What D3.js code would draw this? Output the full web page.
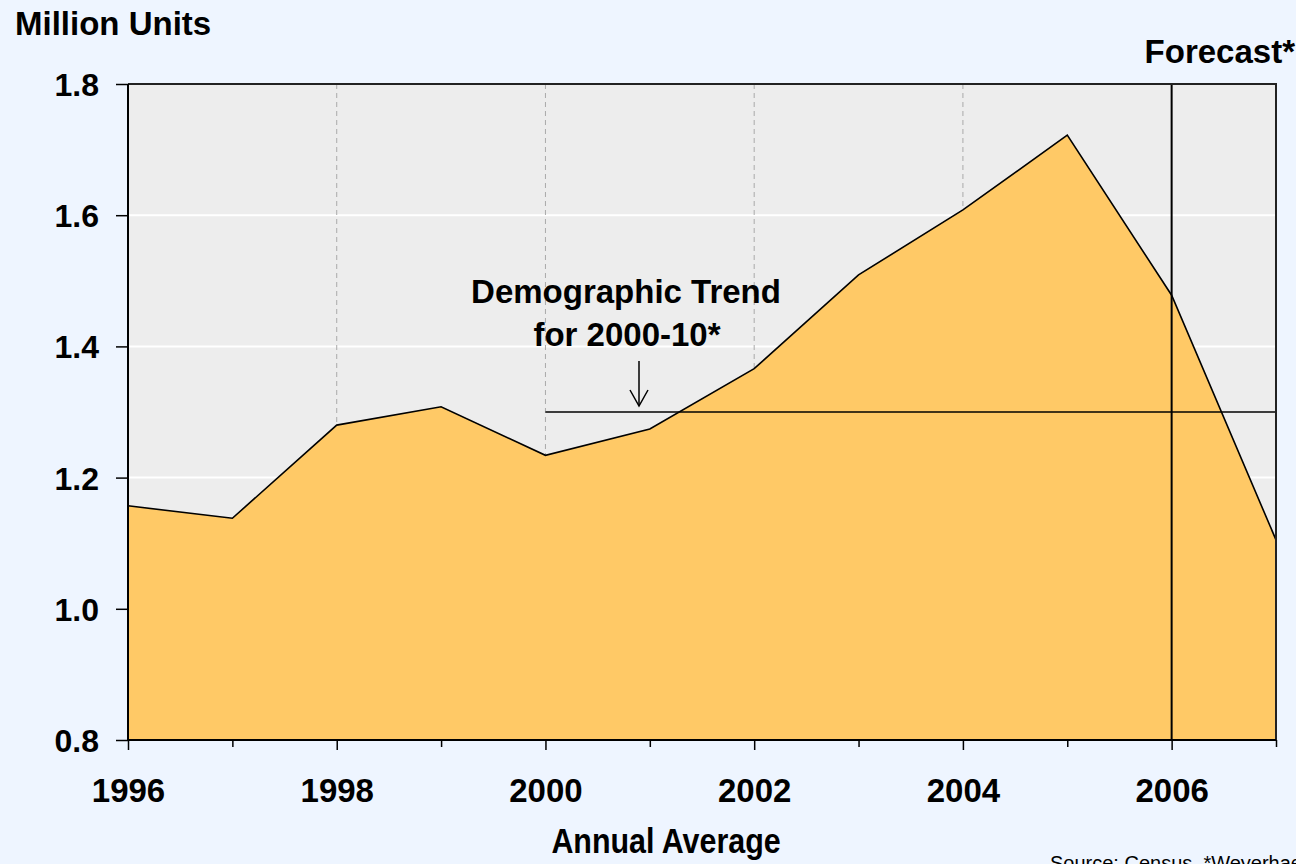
<!DOCTYPE html>
<html>
<head>
<meta charset="utf-8">
<script src="https://cdn.jsdelivr.net/npm/d3@7"></script>
<style>
  html, body { margin: 0; padding: 0; background: #EEF5FF; overflow: hidden; }
  svg { display: block; font-family: "Liberation Sans", Arial, sans-serif; }
</style>
</head>
<body>
<svg id="chart" width="1296" height="864"></svg>
<script>
// Housing starts, annual average (million units)
const years = [1996, 1997, 1998, 1999, 2000, 2001, 2002, 2003, 2004, 2005, 2006, 2007];
const starts = [1.157, 1.138, 1.280, 1.308, 1.234, 1.274, 1.366, 1.509, 1.608, 1.722, 1.478, 1.105];
const trendYears = [2000, 2007];
const trendValue = 1.30;
const forecastYear = 2006;
const yTicks = [0.8, 1.0, 1.2, 1.4, 1.6, 1.8];
const xLabelYears = [1996, 1998, 2000, 2002, 2004, 2006];
const gridYears = [1998, 2000, 2002, 2004];

const svg = d3.select("#chart");
const plotL = 128, plotR = 1276, plotT = 84, plotB = 740;

const x = d3.scaleLinear().domain([1996, 2007]).range([plotL, plotR]);
const y = d3.scaleLinear().domain([0.8, 1.8]).range([plotB, plotT]);

// plot background
svg.append("rect")
  .attr("x", plotL).attr("y", plotT)
  .attr("width", plotR - plotL).attr("height", plotB - plotT)
  .attr("fill", "#EDEDED");

// horizontal gridlines (white)
svg.append("g").selectAll("line")
  .data(yTicks.slice(1, -1))
  .join("line")
  .attr("x1", plotL).attr("x2", plotR)
  .attr("y1", d => y(d)).attr("y2", d => y(d))
  .attr("stroke", "#FFFFFF").attr("stroke-width", 2);

// vertical dashed gridlines
svg.append("g").selectAll("line")
  .data(gridYears)
  .join("line")
  .attr("x1", d => x(d)).attr("x2", d => x(d))
  .attr("y1", plotT).attr("y2", plotB)
  .attr("stroke", "#AAAAAA").attr("stroke-width", 1)
  .attr("stroke-dasharray", "5,4");

// area
const area = d3.area()
  .x((d, i) => x(years[i]))
  .y0(y(0.8))
  .y1(d => y(d));
svg.append("path")
  .datum(starts)
  .attr("d", area)
  .attr("fill", "#FFC966");

const line = d3.line()
  .x((d, i) => x(years[i]))
  .y(d => y(d));
svg.append("path")
  .datum(starts)
  .attr("d", line)
  .attr("fill", "none")
  .attr("stroke", "#000")
  .attr("stroke-width", 1.6);

// demographic trend line
svg.append("line")
  .attr("x1", x(trendYears[0])).attr("x2", x(trendYears[1]))
  .attr("y1", y(trendValue)).attr("y2", y(trendValue))
  .attr("stroke", "#000").attr("stroke-width", 1.5);

// forecast divider
svg.append("line")
  .attr("x1", x(forecastYear)).attr("x2", x(forecastYear))
  .attr("y1", plotT).attr("y2", plotB)
  .attr("stroke", "#000").attr("stroke-width", 2);

// plot frame (top and right)
svg.append("path")
  .attr("d", `M${plotL},${plotT}H${plotR}V${plotB}`)
  .attr("fill", "none")
  .attr("stroke", "#222").attr("stroke-width", 2);

// y axis
const yAxis = d3.axisLeft(y).tickValues(yTicks).tickFormat(d3.format(".1f")).tickSize(12).tickPadding(17);
const gy = svg.append("g").attr("transform", `translate(${plotL},0)`).call(yAxis);
gy.select(".domain").attr("stroke", "#000").attr("stroke-width", 2).attr("d", `M0,${plotT}V${plotB}`);
gy.selectAll(".tick line").attr("stroke", "#000").attr("stroke-width", 1.5);
gy.selectAll(".tick text")
  .attr("font-size", 32).attr("font-weight", "bold").attr("fill", "#000")
  .attr("font-family", "Liberation Sans, Arial, sans-serif")
  .attr("dy", "0.36em");

// x axis
const xAxis = d3.axisBottom(x).tickValues(years).tickSize(10)
  .tickFormat(d => xLabelYears.includes(d) ? d : "");
const gx = svg.append("g").attr("transform", `translate(0,${plotB})`).call(xAxis);
gx.select(".domain").attr("stroke", "#000").attr("stroke-width", 2).attr("d", `M${plotL},0H${plotR}`);
gx.selectAll(".tick line").attr("stroke", "#000").attr("stroke-width", 1.5)
  .attr("y2", d => xLabelYears.includes(d) ? 10 : 7);
gx.selectAll(".tick text")
  .attr("font-size", 33).attr("font-weight", "bold").attr("fill", "#000")
  .attr("font-family", "Liberation Sans, Arial, sans-serif")
  .attr("y", 62).attr("dy", 0);

// titles and annotations
svg.append("text")
  .attr("x", 15).attr("y", 35)
  .attr("font-size", 33).attr("font-weight", "bold")
  .text("Million Units");

svg.append("text")
  .attr("x", 1295).attr("y", 63)
  .attr("text-anchor", "end")
  .attr("font-size", 33).attr("font-weight", "bold")
  .text("Forecast*");

svg.append("text")
  .attr("transform", "translate(666,853) scale(0.845,1)")
  .attr("text-anchor", "middle")
  .attr("font-size", 36).attr("font-weight", "bold")
  .text("Annual Average");

const ann = svg.append("text")
  .attr("text-anchor", "middle")
  .attr("font-size", 33).attr("font-weight", "bold");
ann.append("tspan").attr("x", 626).attr("y", 303).text("Demographic Trend");
ann.append("tspan").attr("x", 627).attr("y", 346).text("for 2000-10*");

// arrow pointing to the trend line
const ax = 639;
const ty = y(trendValue);
svg.append("line")
  .attr("x1", ax).attr("x2", ax)
  .attr("y1", 361).attr("y2", ty - 7)
  .attr("stroke", "#000").attr("stroke-width", 1.5);
svg.append("path")
  .attr("d", `M${ax - 9},${ty - 22}L${ax},${ty - 6}L${ax + 9},${ty - 22}`)
  .attr("fill", "none").attr("stroke", "#000").attr("stroke-width", 1.5);

svg.append("text")
  .attr("x", 1050).attr("y", 870)
  .attr("font-size", 20)
  .text("Source: Census, *Weyerhaeuser");
</script>
</body>
</html>
